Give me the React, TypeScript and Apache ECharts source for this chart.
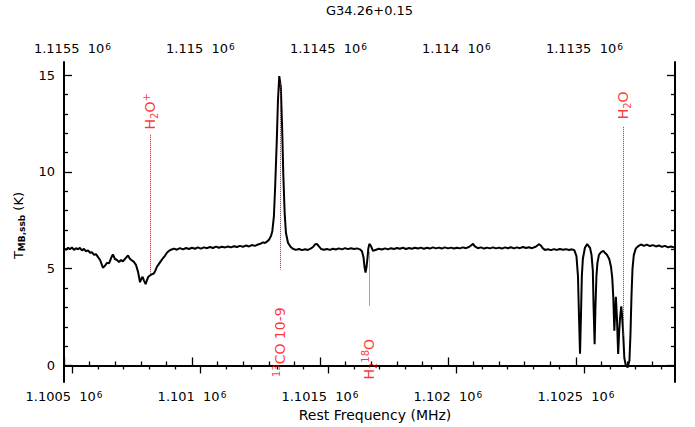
import React, { useEffect, useRef } from "react";
import * as echarts from "echarts";

// Spectrum (rest frequency in MHz, T_MB,ssb in K)
const freqMHz = [
  1100500, 1100508, 1100516, 1100523, 1100531, 1100539, 1100547, 1100555, 1100562, 1100570,
  1100578, 1100586, 1100594, 1100602, 1100609, 1100617, 1100625, 1100633, 1100641, 1100648,
  1100652, 1100660, 1100668, 1100676, 1100684, 1100691, 1100699, 1100707, 1100715, 1100723,
  1100730, 1100738, 1100746, 1100750, 1100758, 1100766, 1100773, 1100781, 1100789, 1100797,
  1100801, 1100807, 1100812, 1100819, 1100824, 1100829, 1100836, 1100844, 1100851, 1100857,
  1100863, 1100871, 1100879, 1100887, 1100895, 1100902, 1100910, 1100918, 1100930, 1100941,
  1100953, 1100965, 1100977, 1100988, 1101000, 1101012, 1101023, 1101035, 1101047, 1101059,
  1101070, 1101082, 1101094, 1101105, 1101117, 1101129, 1101141, 1101152, 1101164, 1101176,
  1101187, 1101199, 1101211, 1101223, 1101234, 1101246, 1101258, 1101270, 1101277, 1101285,
  1101293, 1101301, 1101309, 1101314, 1101320, 1101325, 1101331, 1101336, 1101341, 1101347,
  1101352, 1101357, 1101362, 1101367, 1101375, 1101385, 1101394, 1101406, 1101418, 1101430,
  1101441, 1101453, 1101465, 1101473, 1101480, 1101488, 1101496, 1101504, 1101516, 1101527,
  1101539, 1101551, 1101562, 1101574, 1101586, 1101598, 1101609, 1101621, 1101633, 1101645,
  1101656, 1101664, 1101670, 1101674, 1101678, 1101682, 1101686, 1101689, 1101693, 1101699,
  1101707, 1101719, 1101730, 1101742, 1101754, 1101766, 1101777, 1101789, 1101801, 1101812,
  1101824, 1101836, 1101848, 1101859, 1101871, 1101883, 1101894, 1101906, 1101918, 1101930,
  1101941, 1101953, 1101965, 1101976, 1101988, 1102000, 1102012, 1102023, 1102035, 1102047,
  1102058, 1102070, 1102082, 1102090, 1102098, 1102105, 1102117, 1102129, 1102141, 1102152,
  1102164, 1102176, 1102187, 1102199, 1102211, 1102223, 1102234, 1102246, 1102258, 1102270,
  1102281, 1102293, 1102305, 1102316, 1102328, 1102340, 1102348, 1102355, 1102363, 1102371,
  1102379, 1102391, 1102402, 1102414, 1102426, 1102437, 1102449, 1102461, 1102473, 1102484,
  1102494, 1102502, 1102508, 1102512, 1102516, 1102520, 1102523, 1102527, 1102535, 1102544,
  1102555, 1102561, 1102566, 1102569, 1102573, 1102576, 1102580, 1102584, 1102590, 1102598,
  1102607, 1102613, 1102621, 1102630, 1102637, 1102642, 1102646, 1102650, 1102654, 1102656,
  1102660, 1102665, 1102669, 1102672, 1102677, 1102680, 1102684, 1102689, 1102694, 1102702,
  1102709, 1102713, 1102717, 1102721, 1102726, 1102734, 1102742, 1102754, 1102766, 1102777,
  1102789, 1102801, 1102812, 1102824, 1102836, 1102848, 1102860, 1102871, 1102883, 1102887,
];
const tmbK = [
  6.05, 5.98, 6.08, 6.0, 6.1, 5.97, 6.06, 6.0, 6.08, 5.95,
  6.02, 5.9, 5.95, 5.82, 5.85, 5.72, 5.75, 5.6, 5.45, 5.2,
  5.05, 5.15, 5.3, 5.28, 5.55, 5.74, 5.5, 5.45, 5.35, 5.45,
  5.38, 5.5, 5.62, 5.68, 5.5, 5.42, 5.35, 5.2, 4.85, 4.3,
  4.45, 4.58, 4.4, 4.2, 4.4, 4.58, 4.65, 4.72, 4.75, 4.9,
  5.1, 5.25, 5.4, 5.55, 5.68, 5.82, 5.92, 5.98, 6.04, 5.98,
  6.06, 6.0, 6.07, 6.02, 6.08, 6.03, 6.1, 6.04, 6.1, 6.06,
  6.12, 6.07, 6.14, 6.08, 6.13, 6.1, 6.15, 6.1, 6.16, 6.12,
  6.18, 6.13, 6.2, 6.15, 6.22, 6.18, 6.25, 6.3, 6.36, 6.33,
  6.4, 6.5, 6.7, 6.95, 7.7, 9.26, 11.5, 13.73, 14.95, 14.4,
  12.35, 9.77, 7.89, 6.86, 6.34, 6.13, 6.03, 5.97, 6.02, 5.96,
  6.0, 5.97, 6.05, 6.12, 6.25, 6.28, 6.15, 6.02, 5.98, 6.02,
  5.97, 6.03, 5.99, 6.05, 6.0, 6.06, 6.01, 6.06, 6.02, 6.05,
  6.0, 5.9, 5.6, 5.1, 4.8, 5.1, 5.6, 6.05, 6.28, 6.18,
  5.92, 5.98, 6.03, 5.99, 6.05, 6.0, 6.06, 6.02, 6.07, 6.03,
  6.08, 6.02, 6.07, 6.03, 6.08, 6.04, 6.09, 6.03, 6.08, 6.04,
  6.1, 6.05, 6.09, 6.04, 6.1, 6.05, 6.09, 6.04, 6.08, 6.05,
  6.1, 6.06, 6.12, 6.2, 6.28, 6.15, 6.06, 6.1, 6.04, 6.09,
  6.05, 6.1, 6.05, 6.09, 6.04, 6.1, 6.06, 6.11, 6.05, 6.1,
  6.06, 6.12, 6.07, 6.11, 6.06, 6.12, 6.18, 6.27, 6.2, 6.05,
  5.97, 6.0, 5.96, 6.01, 5.97, 6.02, 5.98, 6.01, 5.97, 6.0,
  5.95, 5.65, 4.6, 2.5, 0.6, 2.8, 4.6, 5.5, 6.08, 6.27,
  6.08, 5.7, 4.9, 3.0, 1.1, 2.9, 4.6, 5.3, 5.72, 5.85,
  5.92, 5.82, 5.72, 5.5, 5.1, 4.5, 3.5, 1.8, 3.0, 3.55,
  2.5, 0.6, 1.8, 2.4, 3.05, 2.6, 1.8, 0.4, 0.05, -0.1,
  0.25, 1.6, 3.6, 5.0, 5.7, 6.05, 6.15, 6.25, 6.18, 6.24,
  6.17, 6.22, 6.15, 6.2, 6.13, 6.18, 6.1, 6.15, 6.1, 6.12,
];

// Axis extents and ticks
const restMin = 1100500;
const restMax = 1102887;
const sidebandSum = 2216033; // image frequency = sidebandSum - rest frequency
const tMin = -0.86;
const tMax = 15.68;
const restMajor = [1100500, 1101000, 1101500, 1102000, 1102500];
const restMinor = [
  1100600, 1100700, 1100800, 1100900, 1101100, 1101200, 1101300, 1101400, 1101600, 1101700,
  1101800, 1101900, 1102100, 1102200, 1102300, 1102400, 1102600, 1102700, 1102800,
];
const imageMajor = [1115500, 1115000, 1114500, 1114000, 1113500];
const imageMinor = [
  1115400, 1115300, 1115200, 1115100, 1114900, 1114800, 1114700, 1114600, 1114400, 1114300,
  1114200, 1114100, 1113900, 1113800, 1113700, 1113600, 1113400, 1113300, 1113200,
];
const tMajor = [0, 5, 10, 15];
const tMinor = [1, 2, 3, 4, 6, 7, 8, 9, 11, 12, 13, 14];

// Line identifications
const lineTexts = ["H{sub|2}O{sup|+}", "{sup|13}CO 10-9", "H{sub|2}{sup|18}O", "H{sub|2}O"];
const lineFreqs = [1100836, 1101344, 1101692, 1102685];
const lineMarkTop = [11.92, 14.6, 5.84, 12.33];
const lineMarkBottom = [4.71, 4.96, 3.06, 1.5];
const lineLabelT = [13.13, 1.2, 0.32, 13.44];

const FONT = "DejaVu Sans";
const RED = "#ff0000";

function fmtMHz(v: number): string {
  return String(parseFloat((v / 1e6).toFixed(5)));
}

export default function App() {
  const ref = useRef<HTMLDivElement>(null);
  useEffect(() => {
    if (!ref.current) return;
    const chart = echarts.init(ref.current, undefined, { renderer: "svg" });
    const spectrum = freqMHz.map((f, i) => [f, tmbK[i]]);
    const axisLine = { show: true, lineStyle: { color: "#000", width: 2 } };
    const majorTick = (vals: number[]) => ({
      show: true,
      inside: true,
      length: 8,
      customValues: vals,
      lineStyle: { color: "#000", width: 1.3 },
    });
    const minorTick = (vals: number[]) => ({
      show: true,
      inside: true,
      length: 4,
      customValues: vals,
      lineStyle: { color: "#000", width: 1.3 },
    });
    const freqLabel = (vals: number[], margin: number) => ({
      show: true,
      customValues: vals,
      margin,
      fontSize: 13,
      fontFamily: FONT,
      color: "#000",
      formatter: (v: number) => `${fmtMHz(v)}  10{s|6}`,
      rich: {
        s: { fontSize: 9, fontFamily: FONT, color: "#000", verticalAlign: "top", lineHeight: 9, padding: [0, 0, 0, 1] },
      },
    });
    const option: any = {
      animation: false,
      backgroundColor: "#fff",
      title: {
        text: "G34.26+0.15",
        left: 326,
        top: 4,
        padding: 0,
        textStyle: { fontSize: 13, fontWeight: "normal", color: "#000", fontFamily: FONT },
      },
      grid: { left: 64, right: 20, top: 62, bottom: 44, containLabel: false },
      xAxis: [
        {
          type: "value",
          position: "bottom",
          min: restMin,
          max: restMax,
          axisLine,
          axisTick: majorTick(restMajor),
          splitLine: { show: false },
          axisLabel: freqLabel(restMajor, 8),
          name: "Rest Frequency (MHz)",
          nameLocation: "middle",
          nameGap: 22,
          nameTextStyle: { fontSize: 14, color: "#000", fontFamily: FONT, padding: [0, 0, 0, 11] },
        },
        {
          type: "value",
          position: "bottom",
          min: restMin,
          max: restMax,
          axisLine: { show: false },
          axisTick: minorTick(restMinor),
          splitLine: { show: false },
          axisLabel: { show: false },
        },
        {
          type: "value",
          position: "top",
          inverse: true,
          min: sidebandSum - restMax,
          max: sidebandSum - restMin,
          axisLine,
          axisTick: majorTick(imageMajor),
          splitLine: { show: false },
          axisLabel: freqLabel(imageMajor, 7),
        },
        {
          type: "value",
          position: "top",
          inverse: true,
          min: sidebandSum - restMax,
          max: sidebandSum - restMin,
          axisLine: { show: false },
          axisTick: minorTick(imageMinor),
          splitLine: { show: false },
          axisLabel: { show: false },
        },
      ],
      yAxis: [
        {
          type: "value",
          position: "left",
          min: tMin,
          max: tMax,
          axisLine,
          axisTick: majorTick(tMajor),
          splitLine: { show: false },
          axisLabel: {
            show: true,
            customValues: tMajor,
            margin: 9,
            fontSize: 13,
            fontFamily: FONT,
            color: "#000",
          },
          name: "T{sub|MB,ssb} (K)",
          nameLocation: "middle",
          nameGap: 38,
          nameTextStyle: {
            fontSize: 13,
            color: "#000",
            fontFamily: FONT,
            lineHeight: 16,
            padding: [0, 7, 0, 0],
            rich: {
              sub: { fontSize: 9, fontFamily: FONT, color: "#000", verticalAlign: "bottom", fontWeight: "bold" },
            },
          },
        },
        {
          type: "value",
          position: "left",
          min: tMin,
          max: tMax,
          axisLine: { show: false },
          axisTick: minorTick(tMinor),
          splitLine: { show: false },
          axisLabel: { show: false },
        },
        {
          type: "value",
          position: "right",
          min: tMin,
          max: tMax,
          axisLine,
          axisTick: majorTick(tMajor),
          splitLine: { show: false },
          axisLabel: { show: false },
        },
        {
          type: "value",
          position: "right",
          min: tMin,
          max: tMax,
          axisLine: { show: false },
          axisTick: minorTick(tMinor),
          splitLine: { show: false },
          axisLabel: { show: false },
        },
      ],
      series: [
        {
          type: "line",
          xAxisIndex: 0,
          yAxisIndex: 0,
          data: spectrum,
          showSymbol: false,
          symbol: "none",
          lineStyle: { color: "#000", width: 2 },
          silent: true,
          z: 2,
        },
        {
          type: "scatter",
          xAxisIndex: 0,
          yAxisIndex: 0,
          symbolSize: 1,
          itemStyle: { color: "rgba(0,0,0,0)" },
          silent: true,
          z: 3,
          data: lineFreqs.map((f, i) => ({
            value: [f, lineLabelT[i]],
            label: { formatter: lineTexts[i] },
          })),
          label: {
            show: true,
            position: "inside",
            rotate: 90,
            color: RED,
            fontSize: 14,
            fontFamily: FONT,
            lineHeight: 18,
            rich: {
              sub: { fontSize: 10, fontFamily: FONT, color: RED, verticalAlign: "bottom" },
              sup: { fontSize: 10, fontFamily: FONT, color: RED, verticalAlign: "top" },
            },
          },
          markLine: {
            silent: true,
            symbol: ["none", "none"],
            label: { show: false },
            lineStyle: { color: RED, type: "dotted", width: 1 },
            data: lineFreqs.map((f, i) => [
              { coord: [f, lineMarkTop[i]] },
              { coord: [f, lineMarkBottom[i]] },
            ]),
          },
        },
      ],
    };
    chart.setOption(option);
    return () => chart.dispose();
  }, []);
  return (
    <div
      ref={ref}
      style={{ position: "absolute", left: 0, top: 0, width: 695, height: 427, background: "#fff" }}
    />
  );
}
